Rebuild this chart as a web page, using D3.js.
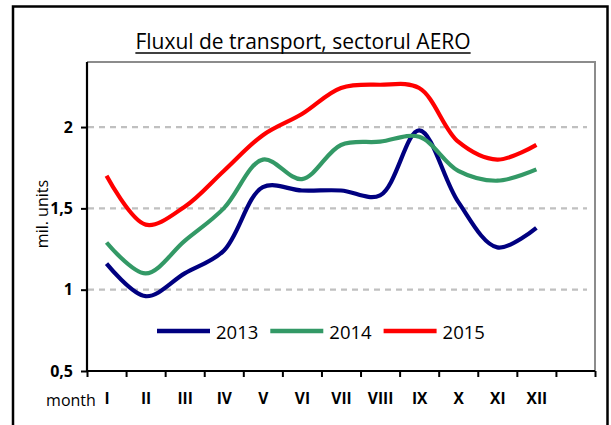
<!DOCTYPE html>
<html>
<head>
<meta charset="utf-8">
<script src="https://cdn.jsdelivr.net/npm/d3@7"></script>
<style>
  body { margin: 0; background: #fff; }
  svg { display: block; font-family: "Open Sans", sans-serif; }
</style>
</head>
<body>
<svg id="chart" width="611" height="425"></svg>
<script>
// month labels and yearly series (mil. units)
const months = ["I", "II", "III", "IV", "V", "VI", "VII", "VIII", "IX", "X", "XI", "XII"];
const years = ["2013", "2014", "2015"];
const v2013 = [1.16, 0.96, 1.10, 1.24, 1.63, 1.61, 1.61, 1.58, 1.98, 1.54, 1.26, 1.38];
const v2014 = [1.29, 1.10, 1.30, 1.50, 1.80, 1.68, 1.89, 1.91, 1.94, 1.73, 1.67, 1.74];
const v2015 = [1.70, 1.40, 1.51, 1.73, 1.95, 2.08, 2.24, 2.26, 2.24, 1.91, 1.80, 1.89];
const yTicks = [0.5, 1, 1.5, 2];
const yTickLabels = ["0,5", "1", "1,5", "2"];
const colours = ["#000080", "#339966", "#ff0000"];

const series = [v2013, v2014, v2015].map((vals, i) => ({ name: years[i], values: vals, colour: colours[i] }));

const svg = d3.select("#chart");
const margin = { top: 62, right: 16, bottom: 54, left: 87 };
const width = 611 - margin.left - margin.right;
const height = 425 - margin.top - margin.bottom;

// outer frame (bottom edge runs off the picture)
svg.append("rect")
  .attr("x", 13).attr("y", 6.5)
  .attr("width", 594.5).attr("height", 440)
  .attr("fill", "none").attr("stroke", "#000").attr("stroke-width", 2.5);

// title, underlined
const title = svg.append("text")
  .attr("x", 303).attr("y", 49)
  .attr("text-anchor", "middle")
  .attr("font-size", 21)
  .attr("fill", "#000")
  .text("Fluxul de transport, sectorul AERO");
const tw = title.node().getComputedTextLength();
svg.append("line")
  .attr("x1", 303 - tw / 2).attr("x2", 303 + tw / 2)
  .attr("y1", 53).attr("y2", 53)
  .attr("stroke", "#000").attr("stroke-width", 1.4);

const g = svg.append("g").attr("transform", `translate(${margin.left},${margin.top})`);

// 12 months + one empty slot at the right, like the original
const x = d3.scaleLinear().domain([0, months.length + 1]).range([0, width]);
const y = d3.scaleLinear().domain([0.5, 2.4]).range([height, 0]);

// dashed gridlines
g.selectAll(".grid")
  .data(yTicks.slice(1))
  .join("line")
  .attr("class", "grid")
  .attr("x1", 1).attr("x2", width - 8)
  .attr("y1", d => y(d)).attr("y2", d => y(d))
  .attr("stroke", "#c0c0c0").attr("stroke-width", 2.2)
  .attr("stroke-dasharray", "6,5");

// plot area border (top / right are grey)
g.append("path")
  .attr("d", `M0,${y(2.4)}H${width}V${height}`)
  .attr("fill", "none").attr("stroke", "#8c8c8c").attr("stroke-width", 2);

// y axis
const yAxis = d3.axisLeft(y)
  .tickValues(yTicks)
  .tickSize(6)
  .tickPadding(8)
  .tickFormat((d, i) => yTickLabels[i]);
const yAxisG = g.append("g").call(yAxis);
yAxisG.select(".domain").attr("stroke", "#000").attr("stroke-width", 2.2)
  .attr("d", `M0,${y(2.4)}V${height}`);
yAxisG.selectAll(".tick line").attr("stroke", "#000").attr("stroke-width", 2);
yAxisG.selectAll(".tick text")
  .attr("font-family", "Open Sans, sans-serif")
  .attr("font-size", 16).attr("font-weight", "bold").attr("fill", "#000");

// x axis: tick marks between categories
const xAxis = d3.axisBottom(x)
  .tickValues(d3.range(months.length + 2))
  .tickSize(6)
  .tickFormat("");
const xAxisG = g.append("g").attr("transform", `translate(0,${height})`).call(xAxis);
xAxisG.select(".domain").attr("stroke", "#000").attr("stroke-width", 2.2)
  .attr("d", `M0,0H${width}`);
xAxisG.selectAll(".tick line").attr("stroke", "#000").attr("stroke-width", 2);

// category labels centred in each slot
const xLabelAxis = d3.axisBottom(x)
  .tickValues(months.map((m, i) => i + 0.5))
  .tickSize(0)
  .tickPadding(22)
  .tickFormat((d, i) => months[i]);
const xLabG = g.append("g").attr("transform", `translate(0,${height})`).call(xLabelAxis);
xLabG.select(".domain").remove();
xLabG.selectAll(".tick text")
  .attr("font-family", "Open Sans, sans-serif")
  .attr("font-size", 15.5).attr("font-weight", "bold").attr("fill", "#000");

svg.append("text")
  .attr("x", 71).attr("y", 406)
  .attr("text-anchor", "middle")
  .attr("font-size", 16)
  .text("month");

// y axis title
svg.append("text")
  .attr("transform", "translate(48,214) rotate(-90)")
  .attr("text-anchor", "middle")
  .attr("font-size", 16)
  .text("mil. units");

// smoothed lines
const line = d3.line()
  .x((d, i) => x(i + 0.5))
  .y(d => y(d))
  .curve(d3.curveCatmullRom.alpha(0.5));

g.selectAll(".series")
  .data(series)
  .join("path")
  .attr("class", "series")
  .attr("d", d => line(d.values))
  .attr("fill", "none")
  .attr("stroke", d => d.colour)
  .attr("stroke-width", 4.2)
  .attr("stroke-linejoin", "round");

// legend
const legend = svg.append("g").attr("transform", "translate(157,331)");
const item = legend.selectAll(".item")
  .data(series)
  .join("g")
  .attr("class", "item")
  .attr("transform", (d, i) => `translate(${i * 113.3},0)`);
item.append("line")
  .attr("x1", 0).attr("x2", 53)
  .attr("y1", 0).attr("y2", 0)
  .attr("stroke", d => d.colour).attr("stroke-width", 4.5);
item.append("text")
  .attr("x", 59).attr("y", 8)
  .attr("font-size", 18.5)
  .text(d => d.name);
</script>
</body>
</html>
